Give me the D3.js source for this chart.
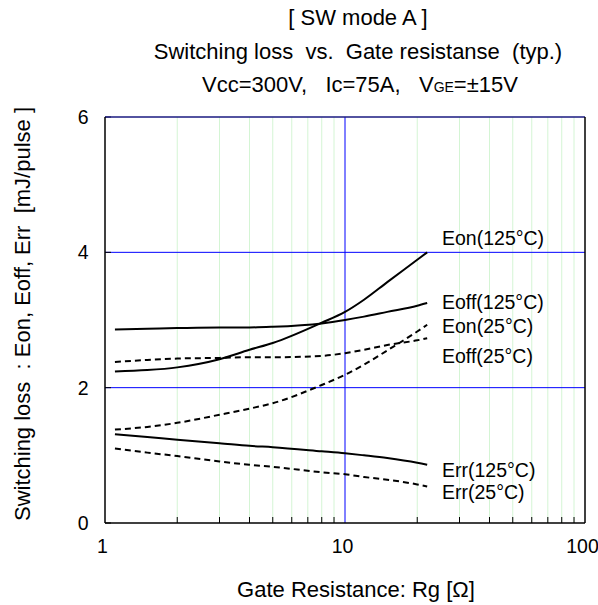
<!DOCTYPE html>
<html>
<head>
<meta charset="utf-8">
<script src="https://cdn.jsdelivr.net/npm/d3@7"></script>
<style>
  body { margin: 0; background: #fff; }
  svg text { font-family: "Liberation Sans", Arial, sans-serif; fill: #000; white-space: pre; }
</style>
</head>
<body>
<div id="chart"></div>
<script>
// gate resistance points [ohm]
var rg = [1.1, 1.5, 2, 3, 4, 5, 8, 10, 12, 15, 20, 22];

// switching losses [mJ/pulse]
var eon125  = [2.24, 2.26, 2.30, 2.42, 2.56, 2.66, 2.96, 3.12, 3.30, 3.56, 3.89, 4.00];
var eoff125 = [2.86, 2.87, 2.88, 2.89, 2.89, 2.90, 2.95, 3.00, 3.05, 3.12, 3.21, 3.25];
var eon25   = [1.38, 1.42, 1.48, 1.60, 1.69, 1.77, 2.04, 2.19, 2.34, 2.55, 2.83, 2.93];
var eoff25  = [2.38, 2.41, 2.43, 2.44, 2.45, 2.45, 2.47, 2.51, 2.56, 2.63, 2.70, 2.73];
var err125  = [1.31, 1.27, 1.23, 1.18, 1.14, 1.12, 1.06, 1.03, 1.00, 0.96, 0.89, 0.86];
var err25   = [1.10, 1.04, 0.99, 0.91, 0.86, 0.83, 0.75, 0.72, 0.68, 0.64, 0.57, 0.54];

var seriesNames = ["Eon(125°C)", "Eoff(125°C)", "Eon(25°C)", "Eoff(25°C)", "Err(125°C)", "Err(25°C)"];
var seriesVals  = [eon125, eoff125, eon25, eoff25, err125, err25];
var seriesDash  = [false, false, true, true, false, true];
// where each label sits (value units on the y axis)
var labelY = [4.11, 3.16, 2.81, 2.36, 0.68, 0.35];

var xTicks = [1, 10, 100];
var yTicks = [0, 2, 4, 6];

var W = 598, H = 605;
var margin = {top: 117, right: 13, bottom: 82, left: 105},
    width = W - margin.left - margin.right,
    height = H - margin.top - margin.bottom;

var svg = d3.select("#chart").append("svg")
    .attr("width", W)
    .attr("height", H);

var g = svg.append("g")
    .attr("transform", "translate(" + margin.left + "," + margin.top + ")");

var x = d3.scaleLog().domain([1, 100]).range([0, width]),
    y = d3.scaleLinear().domain([0, 6]).range([height, 0]);

// minor vertical grid (2..9, 20..90)
var minor = [];
[1, 10].forEach(function(dec) {
  for (var k = 2; k <= 9; k++) minor.push(dec * k);
});

g.selectAll(".minor")
  .data(minor).enter()
  .append("line")
  .attr("class", "minor")
  .attr("x1", d => x(d)).attr("x2", d => x(d))
  .attr("y1", 0).attr("y2", height)
  .attr("stroke", "#d4f5d4")
  .attr("stroke-width", 1);

// minor ticks on the bottom axis, pointing in
g.selectAll(".mtick")
  .data(minor).enter()
  .append("line")
  .attr("x1", d => x(d)).attr("x2", d => x(d))
  .attr("y1", height).attr("y2", height - 6)
  .attr("stroke", "#000")
  .attr("stroke-width", 1);

// major grid in blue
g.append("line")
  .attr("x1", x(10)).attr("x2", x(10))
  .attr("y1", 0).attr("y2", height)
  .attr("stroke", "#0000ff").attr("stroke-width", 1);

g.selectAll(".hgrid")
  .data([2, 4]).enter()
  .append("line")
  .attr("x1", 0).attr("x2", width)
  .attr("y1", d => y(d)).attr("y2", d => y(d))
  .attr("stroke", "#0000ff").attr("stroke-width", 1);

// y ticks pointing in
g.selectAll(".ytick")
  .data(yTicks).enter()
  .append("line")
  .attr("x1", 0).attr("x2", 6)
  .attr("y1", d => y(d)).attr("y2", d => y(d))
  .attr("stroke", "#000");

// frame
g.append("line").attr("x1", 0).attr("x2", width).attr("y1", 0).attr("y2", 0)
  .attr("stroke", "#1a1a80").attr("stroke-width", 1.5);
g.append("line").attr("x1", 0).attr("x2", width).attr("y1", height).attr("y2", height)
  .attr("stroke", "#000").attr("stroke-width", 1.5);
g.append("line").attr("x1", 0).attr("x2", 0).attr("y1", 0).attr("y2", height)
  .attr("stroke", "#000").attr("stroke-width", 1.5);
g.append("line").attr("x1", width).attr("x2", width).attr("y1", 0).attr("y2", height)
  .attr("stroke", "#000").attr("stroke-width", 1.5);

// curves
var line = d3.line()
    .x(function(d, i) { return x(rg[i]); })
    .y(function(d) { return y(d); })
    .curve(d3.curveMonotoneX);

g.selectAll(".curve")
  .data(seriesVals).enter()
  .append("path")
  .attr("class", "curve")
  .attr("d", line)
  .attr("fill", "none")
  .attr("stroke", "#000")
  .attr("stroke-width", 2)
  .attr("stroke-dasharray", (d, i) => seriesDash[i] ? "6,4" : null);

// curve labels
g.selectAll(".lbl")
  .data(seriesNames).enter()
  .append("text")
  .attr("x", 337)
  .attr("y", (d, i) => y(labelY[i]))
  .attr("font-size", 19.5)
  .text(d => d);

// tick labels
g.selectAll(".xl")
  .data(xTicks).enter()
  .append("text")
  .attr("x", d => x(d) - 2.5)
  .attr("y", height + 30)
  .attr("text-anchor", "middle")
  .attr("font-size", 19.5)
  .text(d => d);

g.selectAll(".yl")
  .data(yTicks).enter()
  .append("text")
  .attr("x", -16.5)
  .attr("y", d => y(d) + 7)
  .attr("text-anchor", "end")
  .attr("font-size", 19.5)
  .text(d => d);

// titles
var cx = 358;
svg.append("text").attr("x", cx).attr("y", 25).attr("text-anchor", "middle")
  .attr("font-size", 22).text("[ SW mode A ]");
svg.append("text").attr("x", cx).attr("y", 59).attr("text-anchor", "middle")
  .attr("font-size", 22)
  .text("Switching loss  vs.  Gate resistanse  (typ.)");
var t3 = svg.append("text").attr("x", cx + 2).attr("y", 92).attr("text-anchor", "middle")
  .attr("font-size", 22);
t3.append("tspan").text("Vcc=300V,   Ic=75A,   V");
t3.append("tspan").attr("font-size", 14).text("GE");
t3.append("tspan").text("=±15V");

// axis titles
svg.append("text")
  .attr("x", 356)
  .attr("y", 597)
  .attr("text-anchor", "middle")
  .attr("font-size", 22)
  .text("Gate Resistance: Rg [Ω]");

svg.append("text")
  .attr("transform", "translate(30,314) rotate(-90)")
  .attr("text-anchor", "middle")
  .attr("font-size", 22)
  .text("Switching loss  : Eon, Eoff, Err  [mJ/pulse ]");
</script>
</body>
</html>
